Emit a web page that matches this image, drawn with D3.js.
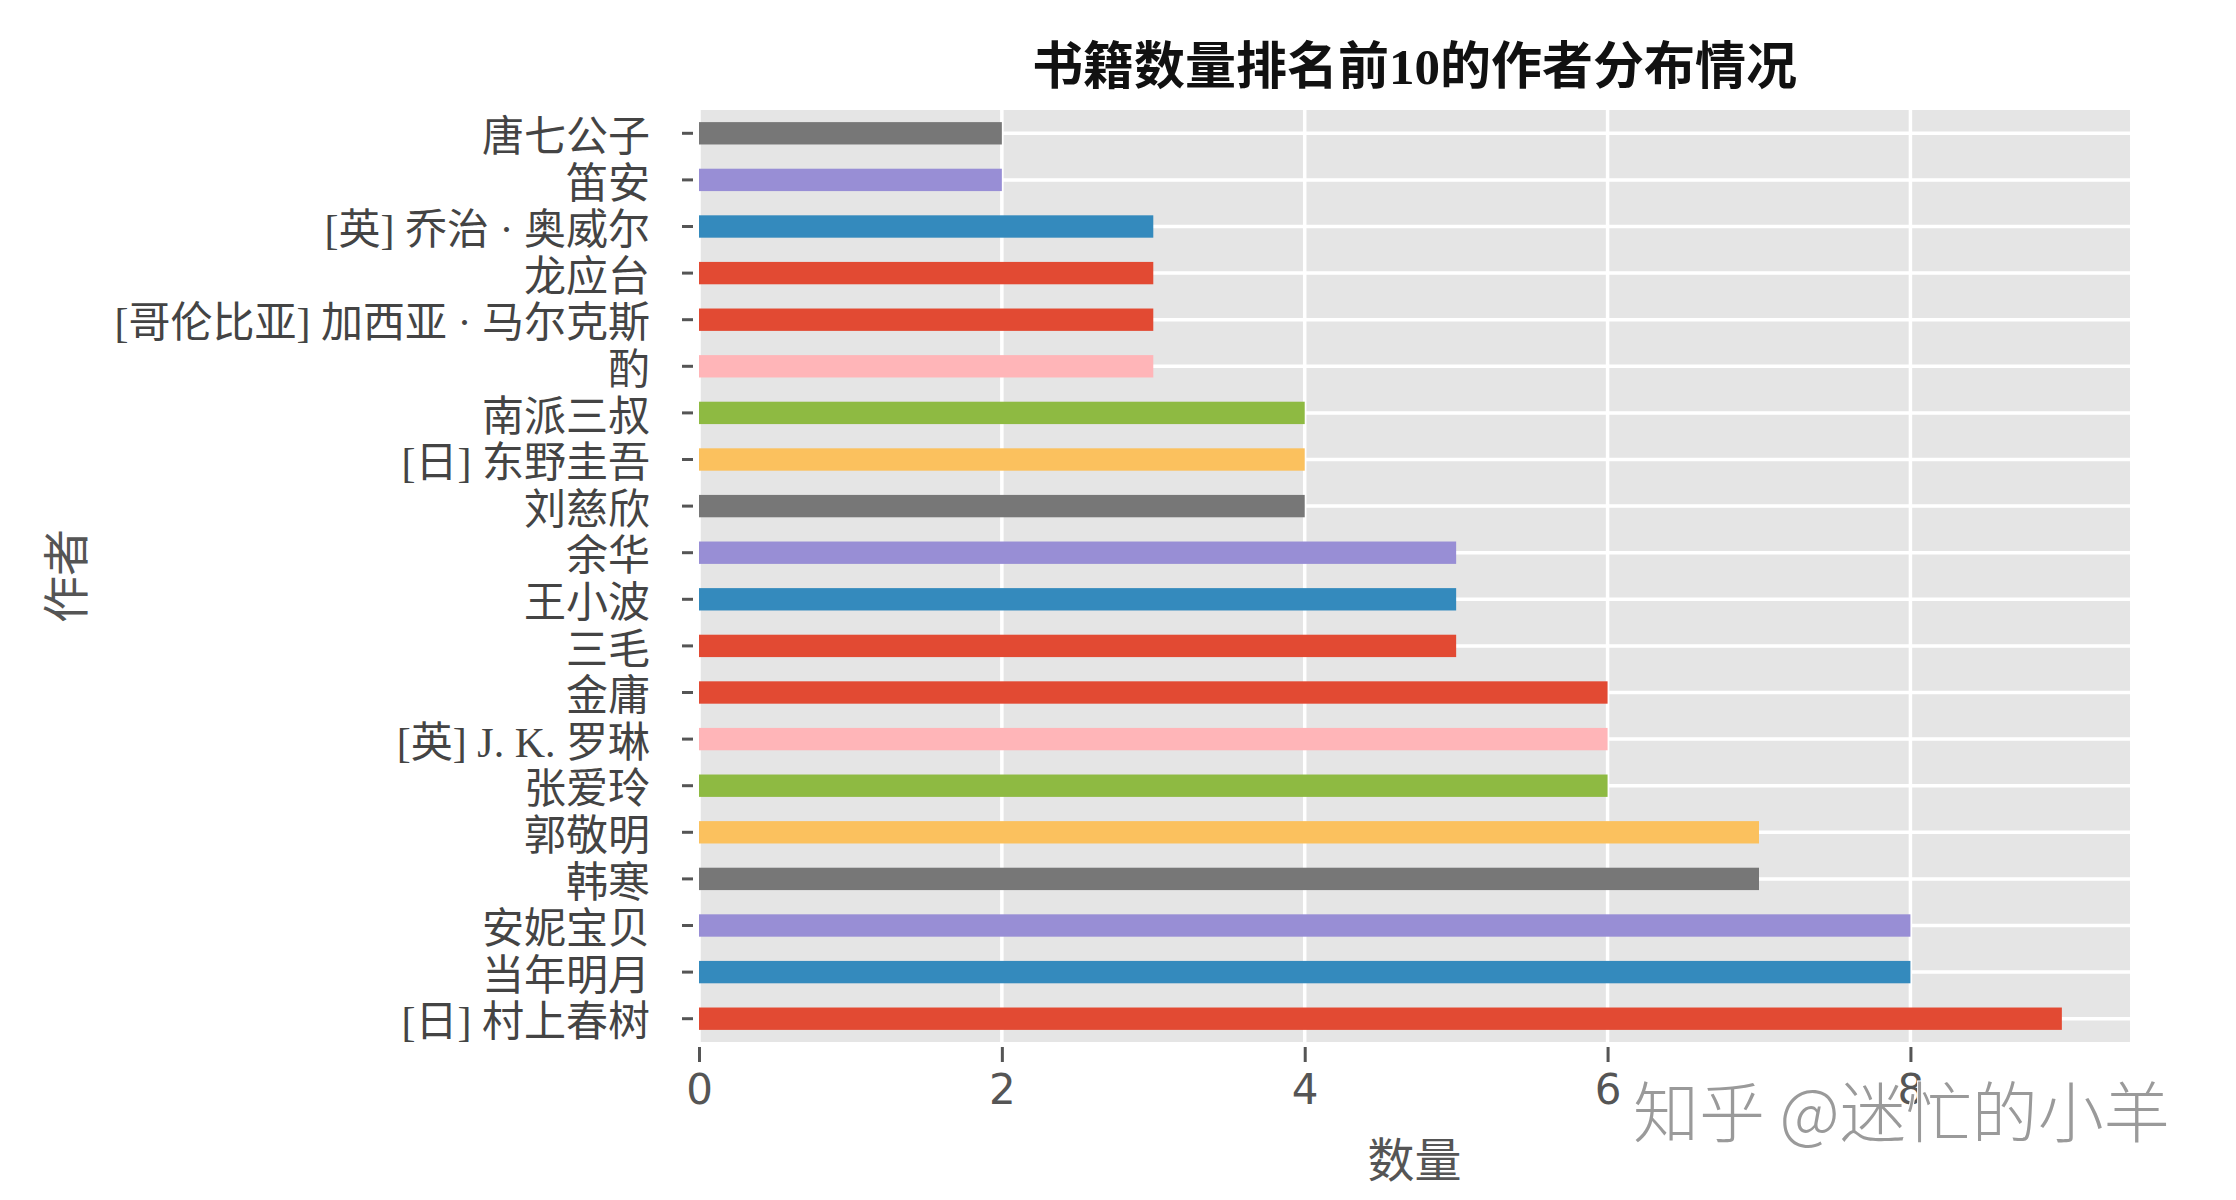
<!DOCTYPE html>
<html>
<head>
<meta charset="utf-8">
<script src="https://cdn.jsdelivr.net/npm/d3@7"></script>
<style>
  html, body { margin: 0; padding: 0; background: #fff; }
  svg { display: block; }
</style>
</head>
<body>
<svg id="chart" width="2236" height="1200"></svg>
<script>
// Data (bottom to top, as plotted)
const authors = [
  "[日] 村上春树", "当年明月", "安妮宝贝", "韩寒", "郭敬明", "张爱玲",
  "[英] J. K. 罗琳", "金庸", "三毛", "王小波", "余华", "刘慈欣",
  "[日] 东野圭吾", "南派三叔", "酌", "[哥伦比亚] 加西亚 · 马尔克斯",
  "龙应台", "[英] 乔治 · 奥威尔", "笛安", "唐七公子"
];
const counts = [9, 8, 8, 7, 7, 6, 6, 6, 5, 5, 5, 4, 4, 4, 3, 3, 3, 3, 2, 2];
const barColors = [
  "#E24A33", "#348ABD", "#988ED5", "#777777", "#FBC15E", "#8EBA42",
  "#FFB5B8", "#E24A33", "#E24A33", "#348ABD", "#988ED5", "#777777",
  "#FBC15E", "#8EBA42", "#FFB5B8", "#E24A33", "#E24A33", "#348ABD",
  "#988ED5", "#777777"
];
const xTicks = [0, 2, 4, 6, 8];
const title = "书籍数量排名前10的作者分布情况";
const xLabel = "数量";
const yLabel = "作者";
const watermark = "知乎 @迷忙的小羊";

const svg = d3.select("#chart");
const plot = { left: 699, right: 2130, top: 110, bottom: 1042 };

const x = d3.scaleLinear()
  .domain([0, d3.max(counts) * 1.05])
  .range([plot.left, plot.right]);

const y = d3.scaleBand()
  .domain(authors.slice().reverse())
  .range([plot.top, plot.bottom])
  .padding(0);

const barFrac = 0.48;
const cjkSerif = "'Liberation Serif', 'Noto Sans CJK SC', serif";
const cjkSans = "'Noto Sans CJK SC', sans-serif";

// background
svg.append("rect")
  .attr("x", plot.left).attr("y", plot.top)
  .attr("width", plot.right - plot.left)
  .attr("height", plot.bottom - plot.top)
  .attr("fill", "#E5E5E5");

// grid
const grid = svg.append("g").attr("stroke", "#ffffff").attr("stroke-width", 3.5);
grid.selectAll("line.v").data(xTicks).join("line")
  .attr("x1", d => x(d)).attr("x2", d => x(d))
  .attr("y1", plot.top).attr("y2", plot.bottom);
grid.selectAll("line.h").data(authors).join("line")
  .attr("x1", plot.left).attr("x2", plot.right)
  .attr("y1", d => y(d) + y.bandwidth() / 2)
  .attr("y2", d => y(d) + y.bandwidth() / 2);

// bars
svg.append("g").selectAll("rect").data(authors).join("rect")
  .attr("x", x(0))
  .attr("y", d => y(d) + y.bandwidth() * (1 - barFrac) / 2)
  .attr("width", (d, i) => x(counts[i]) - x(0))
  .attr("height", y.bandwidth() * barFrac)
  .attr("fill", (d, i) => barColors[i]);

// x axis
const xAxis = d3.axisBottom(x).tickValues(xTicks).tickSize(15).tickPadding(12).tickFormat(d3.format("d"));
const gx = svg.append("g")
  .attr("transform", `translate(0,${plot.bottom + 5})`)
  .call(xAxis);
gx.select(".domain").remove();
gx.selectAll(".tick line").attr("stroke", "#555555").attr("stroke-width", 3);
gx.selectAll(".tick text")
  .attr("fill", "#555555")
  .attr("font-family", "'DejaVu Sans', sans-serif")
  .attr("font-size", 42);

// y axis
const yAxis = d3.axisLeft(y).tickSize(11).tickPadding(32);
const gy = svg.append("g")
  .attr("transform", `translate(${plot.left - 6},0)`)
  .call(yAxis);
gy.select(".domain").remove();
gy.selectAll(".tick line").attr("stroke", "#555555").attr("stroke-width", 3);
gy.selectAll(".tick text")
  .attr("fill", "#444444")
  .attr("font-family", cjkSerif)
  .attr("font-size", 42)
  .attr("dy", "0.42em");

// title
svg.append("text")
  .attr("x", (plot.left + plot.right) / 2)
  .attr("y", 67)
  .attr("text-anchor", "middle")
  .attr("dominant-baseline", "central")
  .attr("font-family", cjkSerif)
  .attr("font-weight", "bold")
  .attr("font-size", 51)
  .attr("fill", "#111111")
  .text(title);

// axis labels
svg.append("text")
  .attr("x", (plot.left + plot.right) / 2)
  .attr("y", 1156)
  .attr("text-anchor", "middle")
  .attr("dominant-baseline", "central")
  .attr("font-family", cjkSans)
  .attr("font-size", 47)
  .attr("fill", "#555555")
  .text(xLabel);

svg.append("text")
  .attr("transform", `translate(62,${(plot.top + plot.bottom) / 2}) rotate(-90)`)
  .attr("text-anchor", "middle")
  .attr("dominant-baseline", "central")
  .attr("font-family", cjkSans)
  .attr("font-size", 47)
  .attr("fill", "#555555")
  .text(yLabel);

// watermark
svg.append("text")
  .attr("x", 1633)
  .attr("y", 1108)
  .attr("dominant-baseline", "central")
  .attr("font-family", cjkSans)
  .attr("font-weight", 300)
  .attr("font-size", 66)
  .attr("fill", "#9a9a9a")
  .attr("stroke", "#ffffff")
  .attr("stroke-width", 2)
  .attr("paint-order", "stroke")
  .text(watermark);
</script>
</body>
</html>
